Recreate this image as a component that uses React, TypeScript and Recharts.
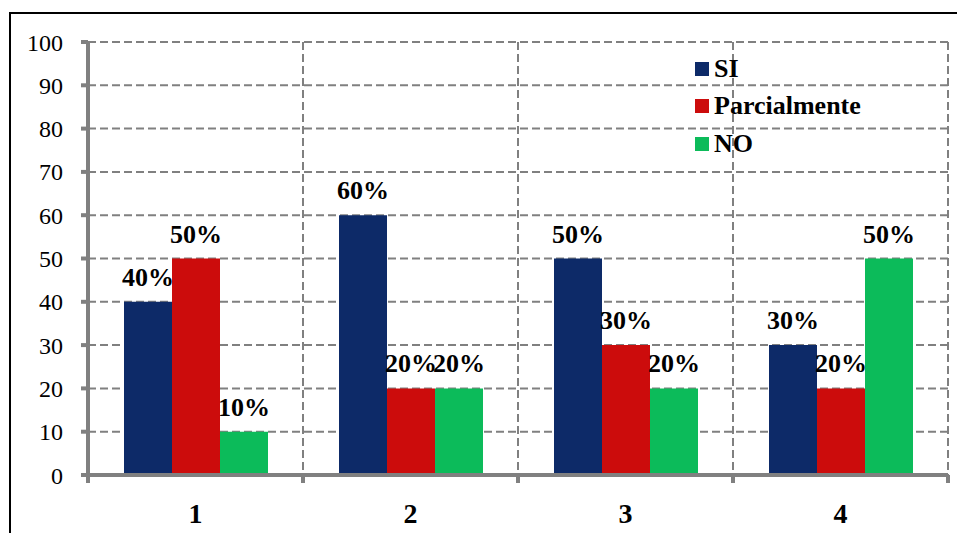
import { BarChart, Bar, XAxis, YAxis, CartesianGrid, Legend, LabelList } from "recharts";

const categories = ["1", "2", "3", "4"];
const siValues = [40, 60, 50, 30];
const parcialValues = [50, 20, 30, 20];
const noValues = [10, 20, 20, 50];
const yTicks = [0, 10, 20, 30, 40, 50, 60, 70, 80, 90, 100];

const series = [
  { key: "si", name: "SI", color: "#0d2a68" },
  { key: "parcial", name: "Parcialmente", color: "#cc0c0c" },
  { key: "no", name: "NO", color: "#0cbb5a" },
];

const data = categories.map((cat, i) => ({
  cat,
  si: siValues[i],
  parcial: parcialValues[i],
  no: noValues[i],
}));

const FONT = '"Liberation Serif", "Times New Roman", serif';
const AXIS_GRAY = "#808080";
const WIDTH = 957;
const HEIGHT = 533;
const MARGIN = { top: 42, right: 9, bottom: 0, left: 0 };
const Y_AXIS_WIDTH = 88;
const BAND = (WIDTH - MARGIN.left - MARGIN.right - Y_AXIS_WIDTH) / categories.length;

// category label plus a short tick mark at the group boundaries
function CategoryTick(props: any) {
  const { x, y, payload, index } = props;
  const left = x - BAND / 2;
  const right = x + BAND / 2;
  return (
    <g>
      <line x1={left} y1={y - 6} x2={left} y2={y + 2} stroke={AXIS_GRAY} strokeWidth={4} />
      {index === categories.length - 1 && (
        <line x1={right} y1={y - 6} x2={right} y2={y + 2} stroke={AXIS_GRAY} strokeWidth={4} />
      )}
      <text
        x={x}
        y={y + 22}
        dy="0.71em"
        textAnchor="middle"
        fontSize={28}
        fontWeight="bold"
        fill="#000"
        fontFamily={FONT}
      >
        {payload.value}
      </text>
    </g>
  );
}

function LegendBox() {
  return (
    <div style={{ fontFamily: FONT, fontWeight: "bold", fontSize: 26, color: "#000" }}>
      {series.map((s) => (
        <div key={s.key} style={{ display: "flex", alignItems: "center", height: 37.5 }}>
          <span style={{ width: 14, height: 14, background: s.color, marginRight: 5 }} />
          <span>{s.name}</span>
        </div>
      ))}
    </div>
  );
}

export default function App() {
  return (
    <div style={{ position: "absolute", left: 0, top: 0, width: WIDTH, height: HEIGHT, overflow: "hidden", background: "#fff" }}>
      <div
        style={{
          position: "absolute",
          left: 9,
          top: 12,
          width: 1000,
          height: 600,
          borderTop: "2px solid #000",
          borderLeft: "2px solid #000",
        }}
      />
      <BarChart
        width={WIDTH}
        height={HEIGHT}
        data={data}
        margin={MARGIN}
        barSize={48}
        barGap={0}
        style={{ position: "absolute", left: 0, top: 0 }}
      >
        <CartesianGrid
          stroke={AXIS_GRAY}
          strokeWidth={2}
          strokeDasharray="8 4"
          verticalCoordinatesGenerator={({ offset }: any) =>
            [0, 1, 2, 3, 4].map((i) => offset.left + (i * offset.width) / categories.length)
          }
        />
        <XAxis
          dataKey="cat"
          height={58}
          tickLine={false}
          axisLine={{ stroke: AXIS_GRAY, strokeWidth: 4 }}
          tickSize={6}
          tickMargin={0}
          tick={<CategoryTick />}
        />
        <YAxis
          domain={[0, 100]}
          ticks={yTicks}
          interval={0}
          width={Y_AXIS_WIDTH}
          tickSize={7}
          tickMargin={18}
          axisLine={{ stroke: AXIS_GRAY, strokeWidth: 4 }}
          tickLine={{ stroke: AXIS_GRAY, strokeWidth: 4 }}
          tick={{ fontSize: 24, fill: "#000", fontFamily: FONT }}
        />
        <Legend
          layout="vertical"
          align="center"
          verticalAlign="middle"
          wrapperStyle={{ left: 695, top: 50, width: 200 }}
          content={() => <LegendBox />}
        />
        {series.map((s) => (
          <Bar key={s.key} dataKey={s.key} name={s.name} fill={s.color} isAnimationActive={false}>
            <LabelList
              dataKey={s.key}
              position="top"
              offset={16}
              formatter={(v: any) => `${v}%`}
              style={{ fontSize: 26, fontWeight: "bold", fill: "#000", fontFamily: FONT }}
            />
          </Bar>
        ))}
      </BarChart>
    </div>
  );
}
